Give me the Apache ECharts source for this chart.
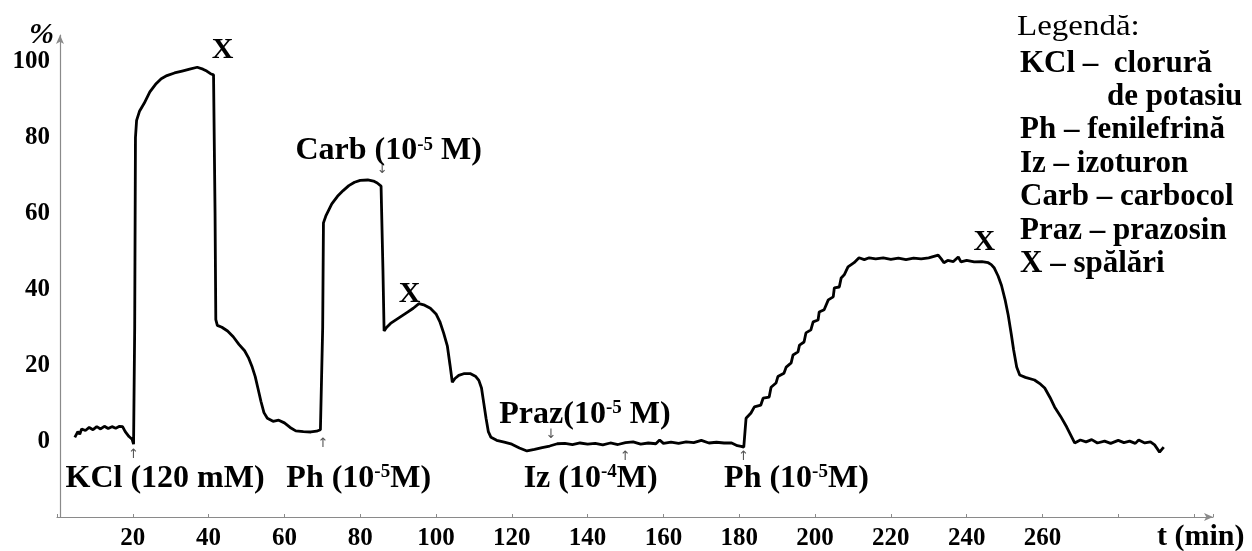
<!DOCTYPE html>
<html>
<head>
<meta charset="utf-8">
<script src="https://cdn.jsdelivr.net/npm/echarts@6/dist/echarts.min.js"></script>
<style>html,body{margin:0;padding:0;background:#fff}#c{width:1252px;height:551px}</style>
</head>
<body>
<div id="c"></div>
<script>
// ---- data ----
const timeMin = [4.7,5.5,6,6.5,7.5,8.5,9.5,10.5,11.5,12.5,13.5,14.5,15.5,16.5,17.3,18,19,19.8,20.2,20.4,
  20.5,20.7,21,21.8,23,24.5,26,27.5,29,31,33,35,37,38.5,39.5,40.5,41.3,41.5,41.7,41.9,42.3,43.5,45,46.5,48,49.5,50.5,51.5,52.3,53,53.8,54.6,55.5,57,58.5,60,61.5,63,65,67,68.5,69.5,70,
  70.1,70.3,71,72.5,74,75.5,77,78.5,80,82,83.5,84.5,85.5,85.8,86,86.3,87,88,89.5,91,92.5,94,95.5,97,98.5,100,101,102,103,103.7,104.3,105,106,107.5,109,110.5,111.3,112,112.6,113.2,113.8,114.5,116,118,120,122,124,126,128,130,132,134,136,138,140,142,144,146,148,150,152,154,156,158,159,160,162,164,166,168,170,172,174,176,178,179.5,180.5,181.2,
  181.8,183.1,184,185.7,186.3,187.9,188.4,189.7,190.2,191.8,192.4,193.7,194.2,195.5,195.9,197.1,197.6,198.9,199.5,200.8,201.1,202.4,203.5,204.8,205.1,206.4,206.9,207.7,208.7,210.3,211.6,213,214.3,216,218,220,222,224,226,228,230,232.5,233.3,234,235,236.5,237.8,238.5,240,242,244,245.7,246.5,247.3,248.3,249.2,250.2,251,251.8,252.4,253.2,254,255.5,257.9,259.5,260.6,262,263.2,264.8,266.4,268.5,270,271.5,273,274.5,276.4,278,280,281.5,283,284.5,285.4,287,288.5,289.6,290.9,292];
const tensionPct = [1.0,2.5,1.8,3.2,2.8,3.6,3.0,3.8,3.2,3.9,3.3,3.8,3.4,3.9,3.8,2.5,1.2,0.5,-0.8,-0.5,
  30,80,84.5,87,89,92,94,95.5,96.3,97,97.5,98,98.5,98,97.5,96.8,96.5,97,60,32,30.5,30,29,27.5,25.5,23.8,22,19.5,17,14,10.5,7.5,6,5.2,5.5,4.8,3.6,2.7,2.5,2.4,2.6,3,2.7,
  30,57.5,59.5,62.5,64.5,66,67.3,68.2,68.7,68.8,68.5,68,67.2,67.5,45,29,30,31,32,33,34,35,36.2,35.8,35,33.5,31.5,28.5,25,20,15.5,16.5,17.3,17.8,17.8,17,16,14,10,6,2.5,1,0.2,-0.3,-0.8,-1.8,-2.6,-2.2,-1.7,-1.3,-0.7,-0.6,-0.9,-0.5,-0.8,-0.6,-1,-0.5,-0.9,-0.4,-0.2,-0.8,-0.5,-0.7,0.3,-0.6,-0.3,-0.6,-0.2,-0.4,0.2,-0.5,-0.3,-0.5,-0.5,-1.2,-1.4,-1.6,
  6,7.4,9,9.5,11.3,11.6,14.2,15.3,17,17.9,19.5,20.6,22.7,23.5,25.3,26.1,28.5,29.3,31.4,31.9,34,34.6,37.2,38,40.4,40.6,43,43.8,45.9,47,48.3,47.8,48.3,48,48.3,47.9,48.2,47.8,48.2,48,48.3,49,48,47,47.6,47.3,48.5,47.2,47.6,47.2,47.3,47,46.5,45.6,43.5,41,37,33,28,24,19.5,17.4,16.8,16.1,15,14,11.5,9,6.5,3.7,-0.5,0.3,-0.2,0.4,-0.5,0,-0.6,0.2,-0.4,0,-0.6,0.3,-0.5,-0.2,-1,-2.9,-1.6];

// washes (X marks)
const washT = [43.7, 93.0, 244.7];
const washV = [102.9, 38.7, 52.3];
const washText = ['X', 'X', 'X'];

// drug additions
const annoT = [87.5, 139.3, 28.5, 79.6, 140.8, 195.1];
const annoV = [76.4, 6.9, -9.9, -9.9, -10, -10];
const annoText = ['Carb (10{sup|-5} M)', 'Praz(10{sup|-5} M)', 'KCl (120 mM)', 'Ph (10{sup|-5}M)', 'Iz (10{sup|-4}M)', 'Ph (10{sup|-5}M)'];

// small arrows marking the moments of addition
const arrowT = [20.2, 70.2, 85.8, 130.3, 149.9, 181.1];
const arrowV = [-3.6, -0.6, 71.4, 1.6, -4, -4];
const arrowGlyph = ['↑', '↑', '↓', '↓', '↑', '↑'];

const xTickLabels = [20, 40, 60, 80, 100, 120, 140, 160, 180, 200, 220, 240, 260];
const yTickLabels = [0, 20, 40, 60, 80, 100];

const legendLines = ['KCl –  clorură', 'de potasiu', 'Ph – fenilefrină', 'Iz – izoturon', 'Carb – carbocol', 'Praz – prazosin', 'X – spălări'];
const legendTitle = 'Legendă:';

// ---- build chart ----
const FONT = '"Liberation Serif", "Times New Roman", serif';
const traceData = timeMin.map((t, i) => [t, tensionPct[i]]);
const washData = washT.map((t, i) => ({ value: [t, washV[i]], name: washText[i] }));
const annoData = annoT.map((t, i) => ({ value: [t, annoV[i]], name: annoText[i] }));
const arrowData = arrowT.map((t, i) => ({ value: [t, arrowV[i]], name: arrowGlyph[i] }));

const legendGraphics = [{
  type: 'text', left: 1017, top: 12, scaleX: 1.1,
  style: { text: legendTitle, font: 'normal 30px ' + FONT, fill: '#000' }
}];
legendLines.forEach((s, i) => {
  legendGraphics.push({
    type: 'text', left: i === 1 ? 1107 : 1020, top: 48 + i * 33.4,
    style: { text: s, font: 'bold 31px ' + FONT, fill: '#000' }
  });
});

const labelSeries = (data, fontSize, color, family, z) => ({
  type: 'scatter', data: data, symbolSize: 2,
  itemStyle: { color: 'rgba(0,0,0,0)', opacity: 1 }, silent: true, z: z,
  label: {
    show: true, position: 'inside', formatter: p => p.name, opacity: 1,
    color: color, fontFamily: family, fontWeight: family === FONT ? 'bold' : 'normal', fontSize: fontSize,
    textBorderWidth: 0,
    rich: { sup: { fontFamily: FONT, fontWeight: 'bold', fontSize: 19, color: '#000', verticalAlign: 'top' } }
  }
});

const chart = echarts.init(document.getElementById('c'), null, { renderer: 'canvas' });
chart.setOption({
  animation: false,
  backgroundColor: '#fff',
  grid: { left: 57, right: 39, top: 35, bottom: 34, containLabel: false },
  xAxis: {
    type: 'value', min: 0, max: 305, interval: 20,
    axisLine: { show: true, onZero: false, lineStyle: { color: '#8a8a8a', width: 1.2 }, symbol: ['none', 'arrow'], symbolSize: [6, 9] },
    axisTick: { show: true, inside: true, length: 3, lineStyle: { color: '#8a8a8a' } },
    splitLine: { show: false },
    axisLabel: {
      margin: 9, color: '#000', fontFamily: FONT, fontWeight: 'bold', fontSize: 25,
      showMinLabel: true, showMaxLabel: true,
      formatter: v => (xTickLabels.indexOf(v) >= 0 ? String(v) : '')
    }
  },
  yAxis: {
    type: 'value', min: -20, max: 107, interval: 20, offset: -3,
    axisLine: { show: true, onZero: false, lineStyle: { color: '#8a8a8a', width: 1.2 }, symbol: ['none', 'arrow'], symbolSize: [6, 9] },
    axisTick: { show: false },
    splitLine: { show: false },
    axisLabel: {
      margin: 10, color: '#000', fontFamily: FONT, fontWeight: 'bold', fontSize: 25,
      showMaxLabel: false,
      formatter: v => (yTickLabels.indexOf(v) >= 0 ? String(v) : '')
    }
  },
  series: [
    {
      type: 'line', data: traceData, showSymbol: false, symbol: 'none',
      lineStyle: { color: '#000', width: 2.8 }, z: 3, silent: true
    },
    labelSeries(washData, 30, '#000', FONT, 5),
    labelSeries(annoData, 32, '#000', FONT, 5),
    labelSeries(arrowData, 13, '#555', 'DejaVu Sans', 4)
  ],
  graphic: [
    { type: 'text', left: 29, top: 20, style: { text: '%', font: 'italic bold 30px ' + FONT, fill: '#000' } },
    { type: 'text', left: 1157, top: 522, style: { text: 't (min)', font: 'bold 30px ' + FONT, fill: '#000' } }
  ].concat(legendGraphics)
});
</script>
</body>
</html>
